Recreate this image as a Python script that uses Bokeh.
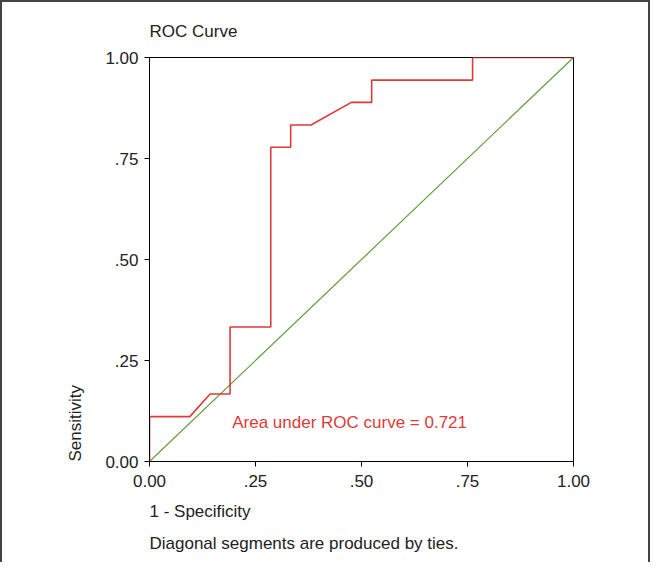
from bokeh.plotting import figure
from bokeh.models import Range1d, FixedTicker, Title, Label
from bokeh.embed import file_html
from bokeh.resources import INLINE

# ROC curve points (1 - specificity, sensitivity)
fpr = [0.0, 0.0, 0.095, 0.143, 0.190, 0.190, 0.286, 0.286, 0.333, 0.333,
       0.381, 0.476, 0.524, 0.524, 0.762, 0.762, 1.0]
tpr = [0.0, 0.111, 0.111, 0.167, 0.167, 0.333, 0.333, 0.778, 0.778, 0.833,
       0.833, 0.889, 0.889, 0.944, 0.944, 1.0, 1.0]
ref_x = [0.0, 1.0]
ref_y = [0.0, 1.0]
ticks = [0.0, 0.25, 0.5, 0.75, 1.0]
tick_labels = ["0.00", ".25", ".50", ".75", "1.00"]
auc = 0.721

FONT = "Liberation Sans"
RED = "#dc3b3b"
GREEN = "#5f9e3c"
TXT = "#222222"

p = figure(width=650, height=562, x_range=Range1d(0, 1), y_range=Range1d(0, 1),
           output_backend="svg", toolbar_location=None,
           min_border_left=147, min_border_right=79,
           min_border_top=53, min_border_bottom=103)
p.styles = {"border-top": "2px solid #444", "border-left": "2px solid #444",
            "border-right": "2px solid #444", "box-sizing": "border-box"}

p.xgrid.visible = False
p.ygrid.visible = False
p.outline_line_color = "black"
p.outline_line_width = 1
p.outline_line_alpha = 1

p.title.text = "ROC Curve"
p.title.align = "left"
p.title.text_font = FONT
p.title.text_font_size = "17px"
p.title.text_font_style = "normal"
p.title.text_color = TXT
p.title.standoff = 34

for ax in (p.xaxis[0], p.yaxis[0]):
    ax.ticker = FixedTicker(ticks=ticks)
    ax.major_label_overrides = {t: l for t, l in zip(ticks, tick_labels)}
    ax.major_tick_in = 0
    ax.major_tick_out = 5
    ax.minor_tick_line_color = None
    ax.axis_line_color = "black"
    ax.major_tick_line_color = "black"
    ax.major_label_text_font = FONT
    ax.major_label_text_font_size = "17px"
    ax.major_label_text_color = TXT
p.xaxis[0].major_label_standoff = 8
p.yaxis[0].major_label_standoff = 6

p.line(ref_x, ref_y, line_color=GREEN, line_width=1.2)
p.line(fpr, tpr, line_color=RED, line_width=1.6)

p.add_layout(Label(x=0.195, y=0.097, text=f"Area under ROC curve = {auc:.3f}",
                   text_color=RED, text_font=FONT, text_font_size="17px",
                   text_baseline="alphabetic"))

for txt, so in [("1 - Specificity", 20), ("Diagonal segments are produced by ties.", 2)]:
    p.add_layout(Title(text=txt, align="left", text_font=FONT, text_font_size="17px",
                       text_font_style="normal", text_color=TXT, standoff=so), "below")

p.add_layout(Title(text="Sensitivity", align="left", text_font=FONT, text_font_size="17px",
                   text_font_style="normal", text_color=TXT, standoff=36), "left")

open("out.html", "w").write(file_html(p, INLINE))
